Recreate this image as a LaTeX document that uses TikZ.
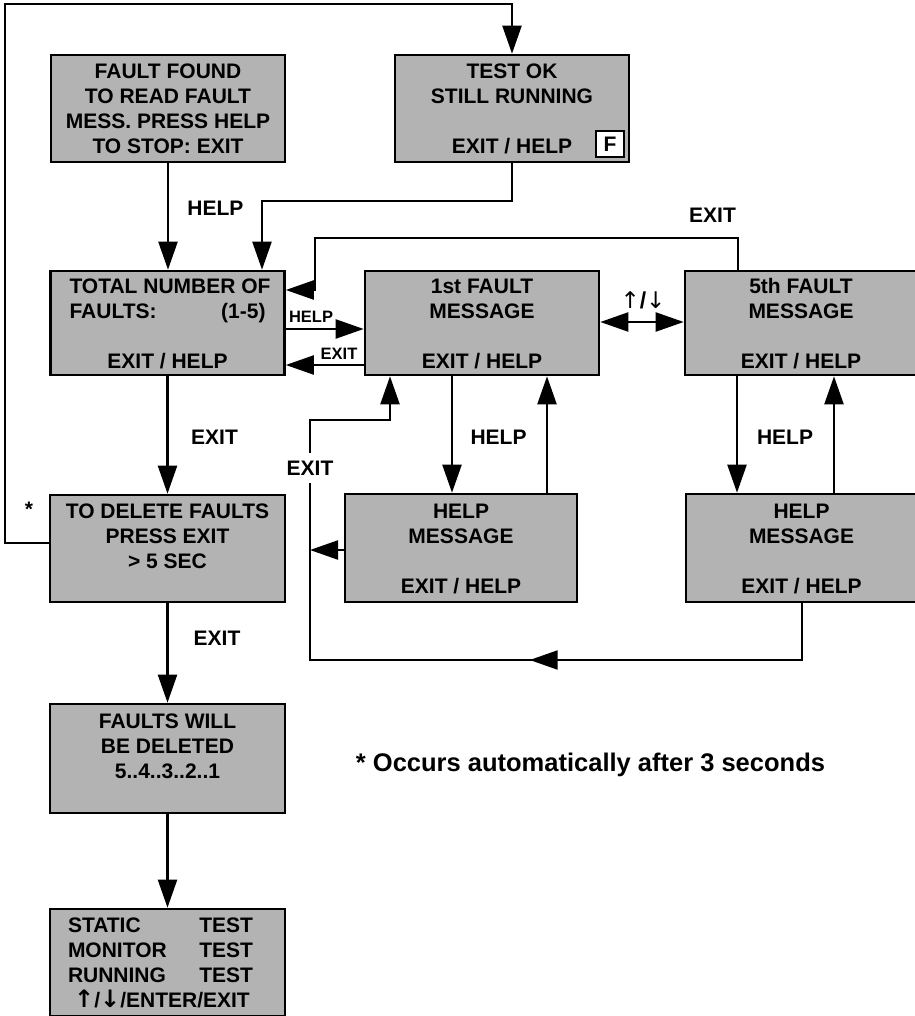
\documentclass[tikz,border=0pt]{standalone}
\usepackage{fontspec}
\setmainfont{Liberation Sans}
\newfontfamily\dejavu{DejaVu Sans}
\usetikzlibrary{arrows.meta,decorations.markings}
\definecolor{boxgray}{RGB}{179,179,179}
\newcommand{\topst}{\rule{0pt}{20pt}}
\newcommand{\botst}{\rule[-5pt]{0pt}{5pt}}
\begin{document}
\begin{tikzpicture}[x=1pt,y=-1pt,
  box/.style={draw=black, line width=2.6pt, fill=boxgray, inner sep=0pt, align=center,
              font=\fontsize{21}{25}\selectfont\bfseries},
  wire/.style={line width=2.2pt},
  arr/.style={wire, -{Triangle[length=28pt,width=19pt]}},
  lbl/.style={font=\fontsize{21}{25}\selectfont\bfseries, inner sep=1pt},
  slbl/.style={font=\fontsize{16.5}{18}\selectfont\bfseries, inner sep=1pt},
]
\useasboundingbox (0,0) rectangle (914,1016);

% boxes
\node[box, minimum width=234pt, minimum height=107pt] (ff) at (168,108.5)
  {\topst FAULT FOUND\\TO READ FAULT\\MESS. PRESS HELP\\TO STOP: EXIT\botst};
\node[box, minimum width=234pt, minimum height=107pt] (tok) at (512,108.5)
  {\topst TEST OK\\STILL RUNNING\\[25pt]EXIT / HELP\botst};
\node[draw, line width=2pt, fill=white, minimum width=28pt, minimum height=26pt, inner sep=0pt,
      font=\fontsize{21}{25}\selectfont\bfseries] (fkey) at (610,144) {F};
\node[box, minimum width=234pt, minimum height=104pt] (tot) at (167.5,323)
  {\topst\makebox[196pt][l]{TOTAL NUMBER OF}\\\makebox[196pt][l]{FAULTS:\hfill(1-5)}\\[25pt]EXIT / HELP\botst};
\node[box, minimum width=234pt, minimum height=104pt] (f1) at (482,323)
  {\topst 1st FAULT\\MESSAGE\\[25pt]EXIT / HELP\botst};
\node[box, minimum width=232pt, minimum height=104pt] (f5) at (801,323)
  {\topst 5th FAULT\\MESSAGE\\[25pt]EXIT / HELP\botst};
\node[box, minimum width=232pt, minimum height=108pt] (h1) at (461,548)
  {\topst HELP\\MESSAGE\\[25pt]EXIT / HELP\botst};
\node[box, minimum width=231pt, minimum height=108pt] (h5) at (801.5,548)
  {\topst HELP\\MESSAGE\\[25pt]EXIT / HELP\botst};
\node[box, minimum width=235pt, minimum height=107pt] (del) at (167.5,548.5)
  {\topst TO DELETE FAULTS\\PRESS EXIT\\{>} 5 SEC\\ \botst};
\node[box, minimum width=235pt, minimum height=109pt] (will) at (167.5,758.5)
  {\topst FAULTS WILL\\BE DELETED\\5..4..3..2..1\\ \botst};
\node[box, minimum width=235pt, minimum height=107pt] (stat) at (167.5,962.5)
  {\topst\makebox[199pt][l]{STATIC\hfill TEST\hspace{14pt}}\\
   \makebox[199pt][l]{MONITOR\hfill TEST\hspace{14pt}}\\
   \makebox[199pt][l]{RUNNING\hfill TEST\hspace{14pt}}\\
   \makebox[199pt]{{\dejavu\bfseries\fontsize{24}{25}\selectfont ↑}/{\dejavu\bfseries\fontsize{24}{25}\selectfont ↓}/ENTER/EXIT\hspace{11pt}}\botst};

% outer loop from "to delete" to "test ok"
\coordinate (tl) at (5,4);
\draw[arr] (del.west |- 0,543) -| (tl) -| (tok.north);
\node[lbl] (star) at (29,509) {*};

% fault found -> total
\draw[arr] (ff.south) -- (ff.south |- tot.north);
\node[lbl] (lhelp1) at (215.5,208) {HELP};

% test ok -> total
\coordinate (c2) at (262,201);
\draw[arr] (tok.south) |- (c2) -- (c2 |- tot.north);

% 5th fault -> total (EXIT)
\coordinate (c3) at (315,238);
\draw[arr] (738,0 |- f5.north) |- (c3) |- (tot.east |- 0,290);
\node[lbl] (lexit1) at (712.5,215) {EXIT};

% total <-> 1st fault
\draw[arr] (tot.east |- 0,329) -- (f1.west |- 0,329);
\node[slbl] (lhelp2) at (311,317) {HELP};
\draw[arr] (f1.west |- 0,365) -- (tot.east |- 0,365);
\node[slbl] (lexit2) at (339,354) {EXIT};

% 1st <-> 5th
\draw[wire, {Triangle[length=28pt,width=19pt]}-{Triangle[length=28pt,width=19pt]}]
  (f1.east |- 0,322) -- (f5.west |- 0,322);
\node[font=\fontsize{23}{24}\selectfont, inner sep=1pt] (lud) at (643,300)
  {{\dejavu ↑}\textbf{/}{\dejavu ↓}};

% total -> delete
\draw[arr] (tot.south) -- (del.north);
\node[lbl] (lexit3) at (214.5,437) {EXIT};

% fault messages <-> help messages
\draw[arr] (452,0 |- f1.south) -- (452,0 |- h1.north);
\draw[arr] (547,0 |- h1.north) -- (547,0 |- f1.south);
\node[lbl] (lhelp3) at (498.5,437) {HELP};
\draw[arr] (737,0 |- f5.south) -- (737,0 |- h5.north);
\draw[arr] (834,0 |- h5.north) -- (834,0 |- f5.south);
\node[lbl] (lhelp4) at (785,437) {HELP};

% delete -> will -> static
\draw[arr] (del.south) -- (will.north);
\node[lbl] (lexit4) at (217,638) {EXIT};
\draw[arr] (will.south) -- (stat.north);

% exit loop from help messages back to 1st fault
\coordinate (lb1) at (802,660);
\coordinate (lb2) at (310,660);
\coordinate (lb3) at (310,420);
\coordinate (lb4) at (390,420);
\draw[arr, postaction={decorate},
  decoration={markings, mark=at position 329pt with {\arrow{Triangle[length=28pt,width=19pt]}}}]
  (802,0 |- h5.south) -- (lb1) -- (lb2) -- (lb3) -- (lb4) -- (390,0 |- f1.south);
\draw[arr] (h1.west |- 0,550) -- (lb2 |- 0,550);
\node[lbl, fill=white, inner xsep=2pt, inner ysep=8pt] (lexit5) at (310,468) {EXIT};

% footnote
\node[font=\fontsize{25.5}{30}\selectfont\bfseries, inner sep=0pt] (note) at (590.5,765)
  {* Occurs automatically after 3 seconds};
\end{tikzpicture}
\end{document}
